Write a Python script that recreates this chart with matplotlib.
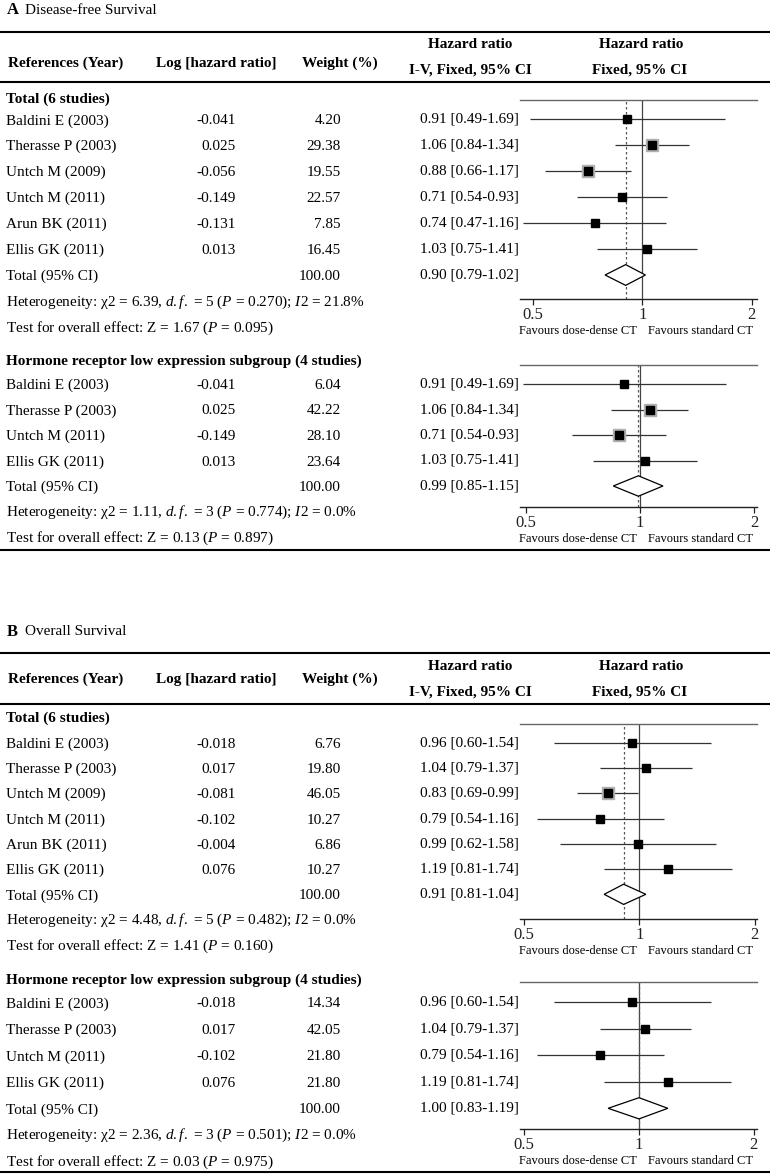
import matplotlib

matplotlib.use("Agg")

import matplotlib.pyplot as plt
from matplotlib.lines import Line2D
from matplotlib.patches import Polygon

plt.rcParams["font.family"] = ["Liberation Serif", "DejaVu Serif"]
plt.rcParams["mathtext.fontset"] = "custom"
plt.rcParams["mathtext.rm"] = "Liberation Serif"
plt.rcParams["mathtext.it"] = "Liberation Serif:italic"
plt.rcParams["mathtext.bf"] = "Liberation Serif:bold"

# ---- data -------------------------------------------------------------
# A: disease-free survival, all studies
dfs_all_studies = ["Baldini E (2003)", "Therasse P (2003)", "Untch M (2009)",
                   "Untch M (2011)", "Arun BK (2011)", "Ellis GK (2011)"]
dfs_all_loghr = ["-0.041", "0.025", "-0.056", "-0.149", "-0.131", "0.013"]
dfs_all_weight = ["4.20", "29.38", "19.55", "22.57", "7.85", "16.45"]
dfs_all_hrtext = ["0.91 [0.49-1.69]", "1.06 [0.84-1.34]", "0.88 [0.66-1.17]",
                  "0.71 [0.54-0.93]", "0.74 [0.47-1.16]", "1.03 [0.75-1.41]"]
# positions as drawn in the original figure (Untch rows appear swapped there)
dfs_all_hr = [0.91, 1.06, 0.71, 0.88, 0.74, 1.03]
dfs_all_lo = [0.49, 0.84, 0.54, 0.66, 0.47, 0.75]
dfs_all_hi = [1.69, 1.34, 0.93, 1.17, 1.16, 1.41]
dfs_all_pooled = [0.90, 0.79, 1.02]
dfs_all_het = ["6.39", "5", "0.270", "21.8%"]
dfs_all_z = ["1.67", "0.095"]

# A: disease-free survival, hormone receptor low expression
dfs_hr_studies = ["Baldini E (2003)", "Therasse P (2003)", "Untch M (2011)", "Ellis GK (2011)"]
dfs_hr_loghr = ["-0.041", "0.025", "-0.149", "0.013"]
dfs_hr_weight = ["6.04", "42.22", "28.10", "23.64"]
dfs_hr_hrtext = ["0.91 [0.49-1.69]", "1.06 [0.84-1.34]", "0.71 [0.54-0.93]", "1.03 [0.75-1.41]"]
dfs_hr_hr = [0.91, 1.06, 0.88, 1.03]
dfs_hr_lo = [0.49, 0.84, 0.66, 0.75]
dfs_hr_hi = [1.69, 1.34, 1.17, 1.41]
dfs_hr_pooled = [0.99, 0.85, 1.15]
dfs_hr_het = ["1.11", "3", "0.774", "0.0%"]
dfs_hr_z = ["0.13", "0.897"]

# B: overall survival, all studies
os_all_studies = dfs_all_studies
os_all_loghr = ["-0.018", "0.017", "-0.081", "-0.102", "-0.004", "0.076"]
os_all_weight = ["6.76", "19.80", "46.05", "10.27", "6.86", "10.27"]
os_all_hrtext = ["0.96 [0.60-1.54]", "1.04 [0.79-1.37]", "0.83 [0.69-0.99]",
                 "0.79 [0.54-1.16]", "0.99 [0.62-1.58]", "1.19 [0.81-1.74]"]
os_all_hr = [0.96, 1.04, 0.83, 0.79, 0.99, 1.19]
os_all_lo = [0.60, 0.79, 0.69, 0.54, 0.62, 0.81]
os_all_hi = [1.54, 1.37, 0.99, 1.16, 1.58, 1.74]
os_all_pooled = [0.91, 0.81, 1.04]
os_all_het = ["4.48", "5", "0.482", "0.0%"]
os_all_z = ["1.41", "0.160"]

# B: overall survival, hormone receptor low expression
os_hr_studies = dfs_hr_studies
os_hr_loghr = ["-0.018", "0.017", "-0.102", "0.076"]
os_hr_weight = ["14.34", "42.05", "21.80", "21.80"]
os_hr_hrtext = ["0.96 [0.60-1.54]", "1.04 [0.79-1.37]", "0.79 [0.54-1.16]", "1.19 [0.81-1.74]"]
os_hr_hr = [0.96, 1.04, 0.79, 1.19]
os_hr_lo = [0.60, 0.79, 0.54, 0.81]
os_hr_hi = [1.54, 1.37, 1.16, 1.74]
os_hr_pooled = [1.00, 0.83, 1.19]
os_hr_het = ["2.36", "3", "0.501", "0.0%"]
os_hr_z = ["0.03", "0.975"]

x_ticks = [0.5, 1, 2]
x_tick_labels = ["0.5", "1", "2"]

# ---- layout helpers (pixel coordinates, origin top-left) --------------
W, H = 770, 1174
fig = plt.figure(figsize=(W / 100, H / 100), dpi=100)
fig.patch.set_facecolor("white")

FS = 11


def fx(x):
    return x / W


def fy(y):
    return 1 - y / H


def put(x, y, s, **kw):
    kw.setdefault("fontsize", FS)
    kw.setdefault("va", "center")
    fig.text(fx(x), fy(y), s, **kw)


def rule(y, lw=1.5):
    fig.add_artist(Line2D([0, 1], [fy(y), fy(y)], transform=fig.transFigure,
                          color="black", linewidth=lw))


def panel_header(title_letter, title, top, col_hdr_y):
    put(7, top - 21.5, title_letter, fontweight="bold", fontsize=12)
    put(25, top - 21.5, title)
    rule(top)
    put(8, top + col_hdr_y, "References (Year)", fontweight="bold")
    put(216, top + col_hdr_y, "Log [hazard ratio]", fontweight="bold", ha="center")
    put(340, top + col_hdr_y, "Weight (%)", fontweight="bold", ha="center")
    put(470, top + 13.3, "Hazard ratio", fontweight="bold", ha="center")
    put(470, top + 38.4, "I-V, Fixed, 95% CI", fontweight="bold", ha="center")
    put(641, top + 13.3, "Hazard ratio", fontweight="bold", ha="center")
    put(640, top + 38.4, "Fixed, 95% CI", fontweight="bold", ha="center")
    rule(top + 50.7)


def section(label, studies, loghr, weight, hrtext, hr, lo, hi, pooled, het, z,
            header_y, row0, sp, ax_top, ax_bottom, x_one, per_doubling, halo):
    n = len(studies)
    put(6, header_y, label, fontweight="bold")
    rows = [row0 + i * sp for i in range(n + 3)]
    for i in range(n):
        put(6, rows[i] + 1.5, studies[i])
        put(236, rows[i] + 1.5, loghr[i], ha="right")
        put(341, rows[i] + 1.5, weight[i], ha="right")
        put(519, rows[i], hrtext[i], ha="right")
    put(6, rows[n] + 1.5, "Total (95% CI)")
    put(341, rows[n] + 1.5, "100.00", ha="right")
    put(519, rows[n], f"{pooled[0]:.2f} [{pooled[1]:.2f}-{pooled[2]:.2f}]", ha="right")
    put(6, rows[n + 1] + 1,
        rf"Heterogeneity: χ2 = {het[0]}, $\mathit{{d.f.}}$ = {het[1]} ($\mathit{{P}}$ = {het[2]}); "
        rf"$\mathit{{I2}}$ = {het[3]}")
    put(6, rows[n + 2] + 1,
        rf"Test for overall effect: Z = {z[0]} ($\mathit{{P}}$ = {z[1]})")

    # forest axes
    x0, x1 = 520, 757
    ax = fig.add_axes([fx(x0), fy(ax_bottom), (x1 - x0) / W, (ax_bottom - ax_top) / H])
    ax.set_xscale("log")
    ax.set_xlim(2 ** ((x0 - x_one) / per_doubling), 2 ** ((x1 - x_one) / per_doubling))
    ax.set_ylim((ax_bottom - row0) / sp, -(row0 - ax_top) / sp)
    ax.patch.set_alpha(0)
    for s in ("left", "right"):
        ax.spines[s].set_visible(False)
    ax.spines["top"].set_color("#666666")
    ax.spines["top"].set_linewidth(1.0)
    ax.spines["bottom"].set_color("#222222")
    ax.spines["bottom"].set_linewidth(1.0)
    ax.set_xticks(x_ticks)
    ax.set_xticklabels(x_tick_labels)
    ax.xaxis.set_minor_locator(matplotlib.ticker.NullLocator())
    ax.tick_params(axis="x", direction="out", length=4, width=0.9, pad=1.5,
                   labelsize=12, colors="#222222")
    ax.set_yticks([])

    ax.axvline(1, color="#444444", linewidth=0.9, zorder=1)
    ax.axvline(pooled[0], color="#555555", linewidth=0.9, linestyle=(0, (2, 2)), zorder=1)

    ys = list(range(n))
    ax.hlines(ys, lo, hi, color="#333333", linewidth=0.9, zorder=2)
    for i in halo:
        ax.plot(hr[i], ys[i], marker="s", markersize=8.5, color="#b0b0b0",
                linestyle="none", zorder=3)
    ax.plot(hr, ys, marker="s", markersize=5.2, color="black", linestyle="none", zorder=4)

    yd = n
    ax.add_patch(Polygon([(pooled[1], yd), (pooled[0], yd - 0.4), (pooled[2], yd),
                          (pooled[0], yd + 0.4)], closed=True, facecolor="white",
                         edgecolor="black", linewidth=0.9, zorder=4))

    fav_y = ax_bottom + 32
    put(637, fav_y, "Favours dose-dense CT", ha="right", fontsize=9)
    put(648, fav_y, "Favours standard CT", ha="left", fontsize=9)


# ---- panel A ------------------------------------------------------------
panel_header("A", "Disease-free Survival", 31.7, 31.6)
section("Total (6 studies)", dfs_all_studies, dfs_all_loghr, dfs_all_weight, dfs_all_hrtext,
        dfs_all_hr, dfs_all_lo, dfs_all_hi, dfs_all_pooled, dfs_all_het, dfs_all_z,
        header_y=99.3, row0=119.3, sp=25.95, ax_top=100, ax_bottom=299.3,
        x_one=642.3, per_doubling=109.5, halo=[1, 2])
section("Hormone receptor low expression subgroup (4 studies)", dfs_hr_studies, dfs_hr_loghr,
        dfs_hr_weight, dfs_hr_hrtext, dfs_hr_hr, dfs_hr_lo, dfs_hr_hi, dfs_hr_pooled,
        dfs_hr_het, dfs_hr_z,
        header_y=361, row0=384, sp=25.5, ax_top=365, ax_bottom=507.3,
        x_one=640, per_doubling=114, halo=[1, 2])
rule(550)

# ---- panel B ------------------------------------------------------------
panel_header("B", "Overall Survival", 653.3, 25.7)
section("Total (6 studies)", os_all_studies, os_all_loghr, os_all_weight, os_all_hrtext,
        os_all_hr, os_all_lo, os_all_hi, os_all_pooled, os_all_het, os_all_z,
        header_y=718.3, row0=742.7, sp=25.27, ax_top=724, ax_bottom=919,
        x_one=639.3, per_doubling=115.5, halo=[2])
section("Hormone receptor low expression subgroup (4 studies)", os_hr_studies, os_hr_loghr,
        os_hr_weight, os_hr_hrtext, os_hr_hr, os_hr_lo, os_hr_hi, os_hr_pooled,
        os_hr_het, os_hr_z,
        header_y=980, row0=1002.3, sp=26.5, ax_top=982.3, ax_bottom=1129,
        x_one=639, per_doubling=114.8, halo=[])
rule(1171.7)

fig.savefig("out.png", dpi=100, facecolor="white")
